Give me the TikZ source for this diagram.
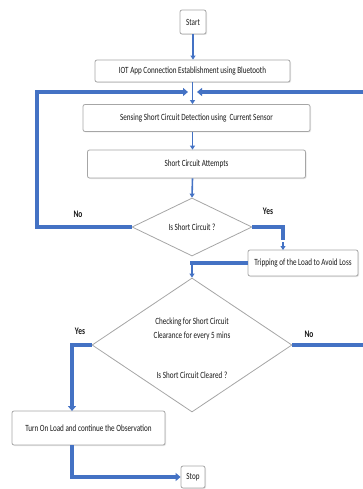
\documentclass[tikz,border=0pt]{standalone}
\usepackage{fontspec}
\setmainfont{Carlito}[FakeStretch=0.75]
\usetikzlibrary{shapes.geometric,arrows.meta,shadows}
\definecolor{flowblue}{HTML}{4472C4}
\definecolor{boxline}{HTML}{A6A6A6}
\tikzset{
  stepbox/.style={draw=boxline, fill=white, rounded corners=2pt, line width=0.8pt,
    inner sep=0pt, font=\fontsize{9.5}{11}\selectfont, text=black!90,
    drop shadow={opacity=0.2, shadow xshift=1pt, shadow yshift=-1pt}},
  decision/.style={draw=boxline, fill=white, diamond, line width=0.8pt, inner sep=0pt,
    font=\fontsize{9.5}{11}\selectfont, text=black!90},
  steptext/.style={font=\fontsize{9.5}{11}\selectfont, text=black!90},
  thinflow/.style={draw=flowblue, line width=1.6pt, -{Triangle[length=4pt,width=5pt]}},
  thickflow/.style={draw=flowblue, line width=4.5pt},
  thickarrow/.style={thickflow, -{Triangle[length=5pt,width=8pt]}},
  answer/.style={font=\fontsize{10}{11}\selectfont\bfseries, text=black!90}
}
\begin{document}
\begin{tikzpicture}[x=1pt,y=-1pt]
  \useasboundingbox (0,0) rectangle (363,489);
  \clip (0,0) rectangle (363,489);

  % process steps
  \node[stepbox, minimum width=26pt, minimum height=24pt] (start) at (193,22) {Start};
  \node[stepbox, minimum width=195pt, minimum height=22pt] (iot) at (192.5,71)
    {IOT App Connection Establishment using Bluetooth};
  \node[stepbox, minimum width=227pt, minimum height=27pt] (sense) at (196.5,118)
    {Sensing Short Circuit Detection using\ \ Current Sensor};
  \node[stepbox, minimum width=218pt, minimum height=28pt] (attempt) at (196.5,164)
    {Short Circuit Attempts};
  \node[decision, minimum width=120pt, minimum height=58pt] (isshort) at (192,227)
    {Is Short Circuit ?};
  \node[stepbox, minimum width=110pt, minimum height=26pt] (trip) at (303,263)
    {Tripping of the Load to Avoid Loss};
  \node[decision, minimum width=200pt, minimum height=134pt] (cleared) at (192,345) {};
  \node[steptext, align=center] (checktext) at (192,329)
    {Checking for Short Circuit\\[3pt]Clearance for every 5 mins};
  \node[steptext] (clearq) at (192,375) {Is Short Circuit Cleared ?};
  \node[stepbox, minimum width=153pt, minimum height=34pt] (turnon) at (88.5,428)
    {Turn On Load and continue the Observation};
  \node[stepbox, minimum width=24pt, minimum height=22pt] (stop) at (193,477) {Stop};

  % branch labels
  \node[answer] (no1) at (78,214) {No};
  \node[answer] (yes1) at (268,211) {Yes};
  \node[answer] (yes2) at (80,331) {Yes};
  \node[answer] (no2) at (309,334) {No};

  % junction and bend points
  \coordinate (loopL) at (188,92);
  \coordinate (loopR) at (197,92);
  \coordinate (merge) at (192,263);
  \coordinate (leftrail) at (37,92);
  \coordinate (yesbend) at (283,227);
  \coordinate (yesdrop) at (283,240);
  \coordinate (tripin) at (283,250);
  \coordinate (turnin) at (72,411);
  \coordinate (turnout) at (72,445);
  \coordinate (rightlow) at (370,345);
  \coordinate (righthigh) at (370,92);

  % straight flow
  \draw[thinflow] (start.south) -- (iot.north -| start.south);
  \draw[thinflow] (iot.south) -- (iot.south |- sense.north);
  \draw[thinflow] (iot.south |- sense.south) -- (iot.south |- attempt.north);
  \draw[thinflow] (iot.south |- attempt.south) -- (isshort.north);

  % decision 1
  \draw[thickarrow] (isshort.west) -| (leftrail) -- (loopL);
  \draw[thickflow] (isshort.east) -- (yesbend) -- (yesdrop);
  \draw[thinflow] ([yshift=-2pt]yesdrop) -- (tripin);

  % back to the clearance check
  \draw[thickflow] (trip.west) -- ([xshift=-2pt]merge);
  \draw[thinflow] (merge) -- (cleared.north);

  % decision 2
  \draw[thickarrow] (cleared.west) -| (turnin);
  \draw[thickarrow] (cleared.east) -- (rightlow) -- (righthigh) -- (loopR);
  \draw[thickarrow] (turnout) |- (stop.west);
\end{tikzpicture}
\end{document}
